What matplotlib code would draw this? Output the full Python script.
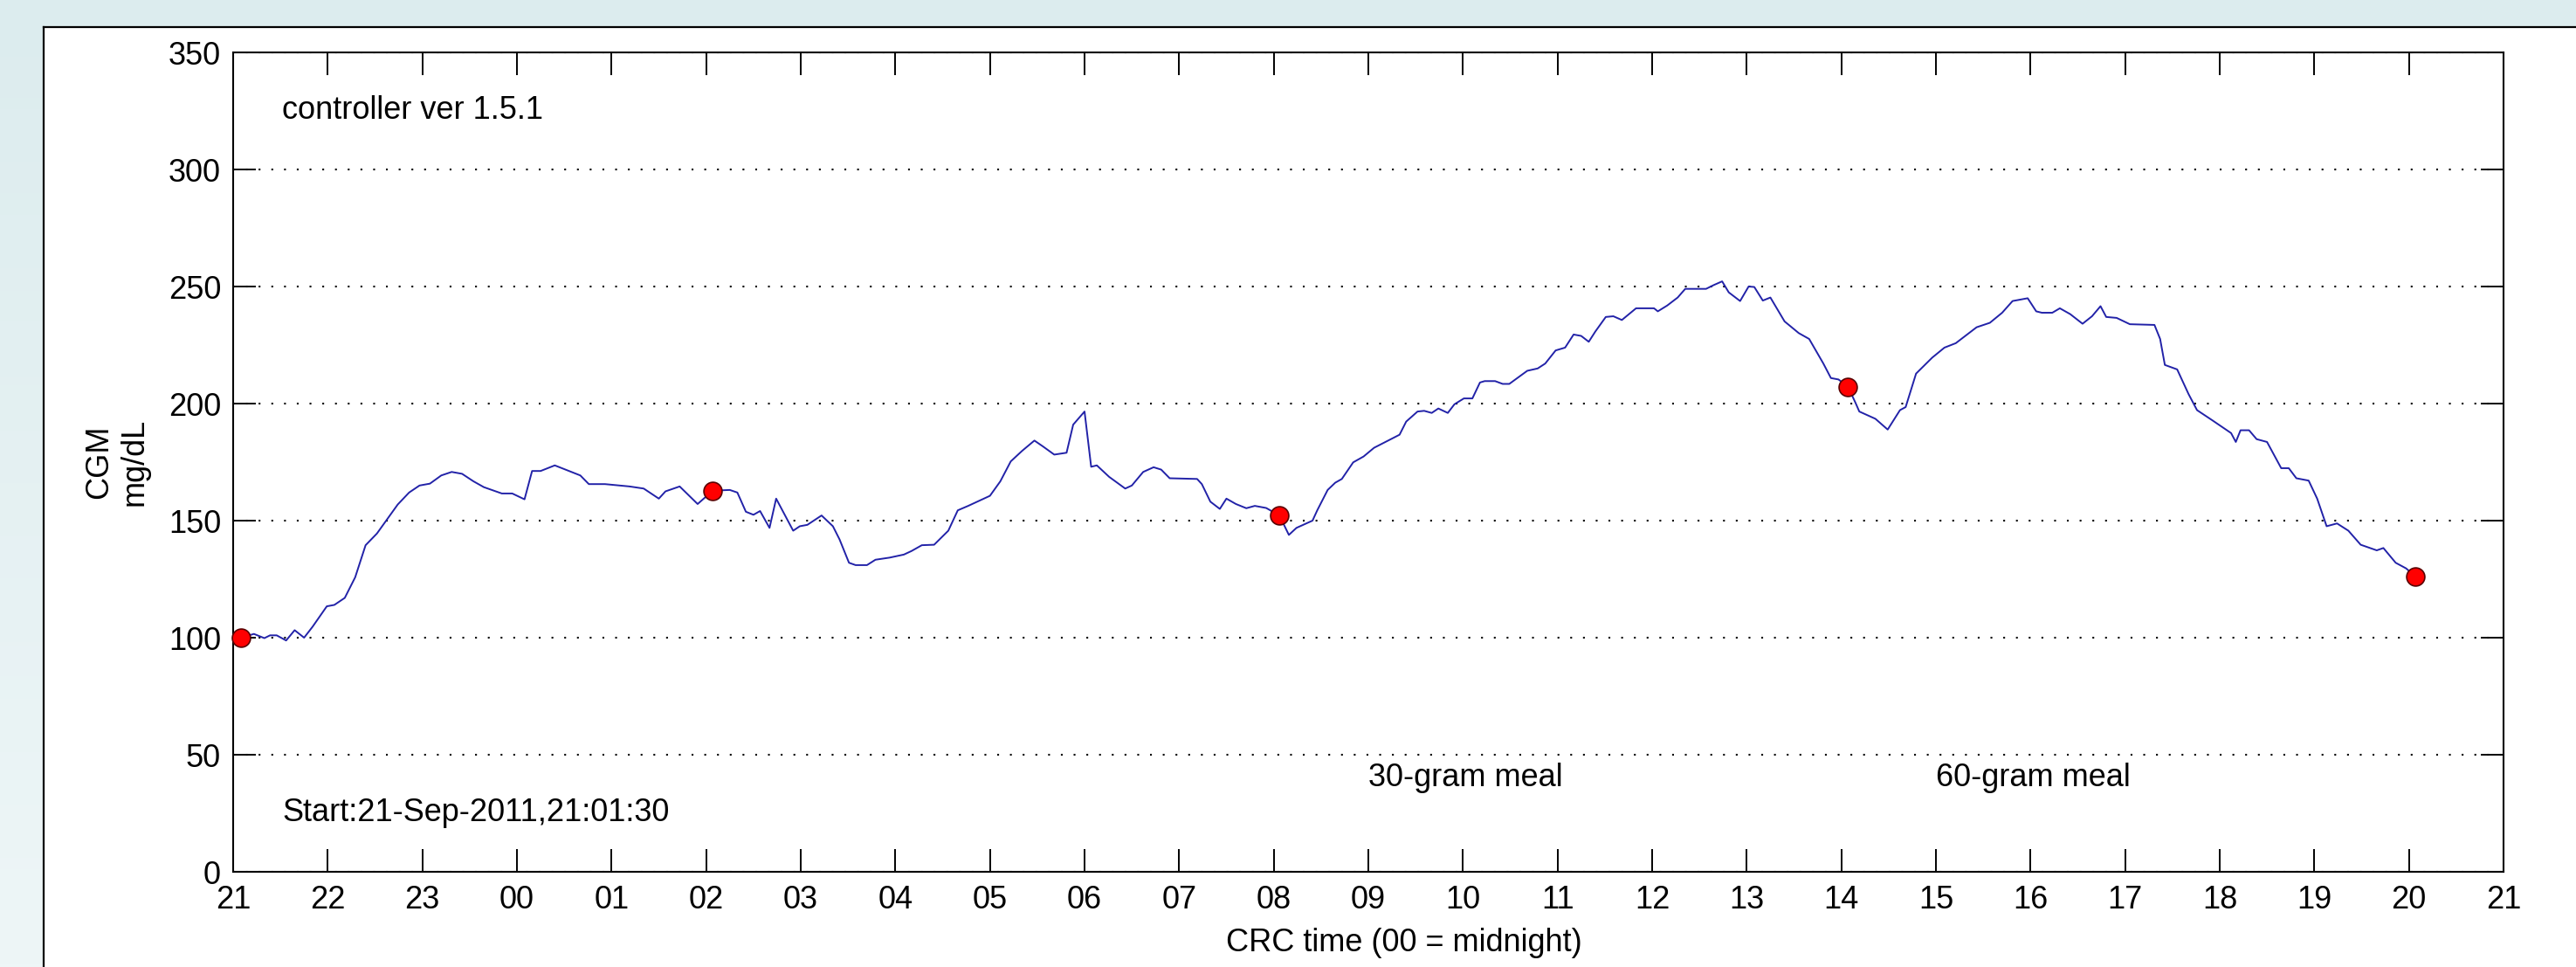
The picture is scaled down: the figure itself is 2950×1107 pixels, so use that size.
import numpy as np
import matplotlib
matplotlib.use("Agg")
import matplotlib.pyplot as plt
from matplotlib.patches import Rectangle
from matplotlib.lines import Line2D

plt.rcParams.update({
    "font.family": ["Liberation Sans", "DejaVu Sans"],
    "font.size": 26,
})

# CGM trace, hours since 21:00 (start 21-Sep-2011)
hours = [0.08, 0.22, 0.33, 0.39, 0.46, 0.56, 0.65, 0.75, 0.84, 0.99, 1.07, 1.18, 1.29,
         1.40, 1.52, 1.63, 1.74, 1.86, 1.97, 2.08, 2.20, 2.31, 2.42, 2.54, 2.65, 2.84,
         2.95, 3.08, 3.16, 3.25, 3.40, 3.55, 3.67, 3.76, 3.93, 4.19, 4.34, 4.50, 4.57,
         4.72, 4.91, 5.07, 5.25, 5.33, 5.42, 5.50, 5.57, 5.67, 5.74, 5.92, 5.99, 6.07,
         6.22, 6.34, 6.41, 6.51, 6.58, 6.70, 6.79, 6.94, 7.09, 7.17, 7.28, 7.41, 7.56,
         7.66, 7.77, 8.00, 8.11, 8.22, 8.34, 8.47, 8.56, 8.68, 8.81, 8.88, 9.00, 9.07,
         9.13, 9.26, 9.43, 9.50, 9.62, 9.73, 9.81, 9.90, 10.19, 10.24, 10.33, 10.43,
         10.50, 10.60, 10.71, 10.80, 10.92, 11.06, 11.16, 11.24, 11.41, 11.46, 11.57,
         11.65, 11.72, 11.84, 11.95, 12.06, 12.18, 12.33, 12.40, 12.52, 12.59, 12.67,
         12.74, 12.84, 12.91, 13.01, 13.10, 13.18, 13.23, 13.34, 13.42, 13.49, 13.68,
         13.79, 13.87, 13.98, 14.08, 14.17, 14.25, 14.33, 14.40, 14.51, 14.59, 14.68,
         14.83, 15.02, 15.06, 15.16, 15.27, 15.35, 15.57, 15.65, 15.74, 15.81, 15.93,
         16.02, 16.08, 16.17, 16.25, 16.40, 16.55, 16.66, 16.81, 16.89, 16.97, 17.07,
         17.15, 17.19, 17.36, 17.49, 17.62, 17.68, 17.79, 17.96, 18.09, 18.21, 18.43,
         18.57, 18.70, 18.81, 18.97, 19.06, 19.12, 19.23, 19.31, 19.42, 19.55, 19.65,
         19.74, 19.80, 19.91, 20.05, 20.31, 20.37, 20.42, 20.55, 20.67, 20.76, 20.92,
         21.12, 21.17, 21.22, 21.31, 21.39, 21.50, 21.65, 21.73, 21.81, 21.94, 22.03,
         22.13, 22.24, 22.36, 22.49, 22.66, 22.73, 22.86, 22.97, 23.07]
cgm = [100, 101.6, 99.8, 101, 101, 98.8, 103.2, 100, 104.7, 113.4, 114, 117, 125.8,
       139.5, 144.5, 150.7, 156.9, 162, 165, 165.8, 169.3, 170.8, 170, 166.8, 164.3, 161.6,
       161.6, 159.1, 171.2, 171.2, 173.6, 171.2, 169.3, 165.6, 165.6, 164.6, 163.7, 159.4, 162.5,
       164.6, 157.1, 162.8, 163.1, 162, 153.8, 152.5, 154.1, 146.9, 159.4, 145.7, 147.6, 148.2,
       152.2, 147.6, 142, 132, 131, 131, 133.3, 134.2, 135.5, 137, 139.5, 139.7, 145.7,
       154.4, 156.3, 160.6, 166.8, 175.3, 179.8, 184.2, 181.7, 178.2, 179, 191, 196.6, 173,
       173.6, 168.7, 163.7, 165, 170.8, 172.8, 171.8, 168.1, 167.8, 165.6, 158.1, 155,
       159.4, 157.1, 155.3, 156.3, 155.4, 152.2, 143.9, 146.9, 150, 154.4, 163.1,
       166.2, 167.8, 174.9, 177.4, 181.1, 183.6, 186.7, 192.3, 196.6, 196.9, 196,
       197.9, 196, 199.7, 202.2, 202.2, 209, 209.6, 209.6, 208.4, 208.4, 214,
       215, 217.1, 222.7, 223.9, 229.5, 228.9, 226.4, 230.8, 237, 237.3, 235.7,
       240.7, 240.7, 239.4, 241.9, 245.3, 249, 249, 250.6, 252.2, 247.5, 243.8,
       250, 249.8, 244, 245.3, 235.1, 230.1, 227.6, 217.1, 210.9, 210.3, 207.2,
       200.3, 196.6, 193.5, 188.9, 197.2, 198.5, 212.8, 219.6, 223.9, 225.8, 232.6,
       234.5, 238.8, 243.8, 245, 239.4, 238.8, 238.8, 240.7, 238.2, 234.1, 237.3,
       241.6, 237, 236.6, 233.9, 233.6, 227.6, 216.5, 214.6, 204.1, 197.2, 192.9,
       187.4, 183.6, 188.6, 188.6, 184.8, 183.6, 172.4, 172.4, 168.1, 167.1, 159.4,
       147.6, 148.8, 145.7, 139.7, 137.3, 138.3, 132, 129.6, 126.1]

# red markers every ~6 h
dot_hours = [0.08, 5.07, 11.06, 17.07, 23.07]
dot_cgm = [100, 162.8, 152.2, 207.2, 126.1]

tick_hours = list(range(0, 25))
tick_labels = ["21", "22", "23", "00", "01", "02", "03", "04", "05", "06", "07", "08", "09",
               "10", "11", "12", "13", "14", "15", "16", "17", "18", "19", "20", "21"]
y_ticks = [0, 50, 100, 150, 200, 250, 300, 350]

W, H = 2950, 1107
fig = plt.figure(figsize=(W / 100, H / 100), dpi=100)

# light blue gradient background
bg = fig.add_axes([0, 0, 1, 1], zorder=-10)
grad = np.linspace(0, 1, 256).reshape(-1, 1)
top_c = np.array([0xdc, 0xec, 0xee]) / 255
bot_c = np.array([0xee, 0xf6, 0xf7]) / 255
img = top_c[None, None, :] * (1 - grad[:, :, None]) + bot_c[None, None, :] * grad[:, :, None]
bg.imshow(img, aspect="auto", extent=[0, 1, 0, 1])
bg.set_axis_off()

# white panel
px0, py1 = 50 / W, 1 - 31 / H
fig.patches.append(Rectangle((px0, 0), 1.0, py1, transform=fig.transFigure,
                             facecolor="white", edgecolor="none", zorder=-5))
fig.lines.append(Line2D([px0, px0], [0, py1], transform=fig.transFigure, color="black", lw=1.6))
fig.lines.append(Line2D([px0, 1], [py1, py1], transform=fig.transFigure, color="black", lw=1.6))

ax = fig.add_axes([267 / W, 1 - 998 / H, (2867 - 267) / W, (998 - 60) / H])
ax.set_facecolor("white")

ax.plot(hours, cgm, color="#2222a8", lw=1.4, zorder=3)
ax.plot(dot_hours, dot_cgm, "o", ms=15, mfc="#ff0000", mec="#5a0000", mew=1.2,
        zorder=4, clip_on=False)

ax.set_xlim(0, 24)
ax.set_ylim(0, 350)
ax.set_xticks(tick_hours)
ax.set_xticklabels(tick_labels)
ax.set_yticks(y_ticks)

ax.yaxis.grid(True, linestyle=(0, (1, 6)), color="black", lw=1.5)
ax.set_axisbelow(True)

ax.tick_params(axis="both", direction="in", length=19, width=1.4, color="black",
               top=True, right=True, labelsize=26)
ax.tick_params(axis="x", pad=11)
ax.tick_params(axis="y", pad=10)
for s in ax.spines.values():
    s.set_linewidth(1.5)

ax.set_xlabel("CRC time (00 = midnight)", fontsize=26, va="center")
ax.xaxis.set_label_coords(0.5158, -0.0874)
ax.set_ylabel("CGM\nmg/dL", fontsize=26, va="center", ma="center", linespacing=1.2)
ax.yaxis.set_label_coords(-0.0512, 0.5)

ax.text(0.52, 325, "controller ver 1.5.1", fontsize=26, va="center", ha="left")
ax.text(0.52, 25, "Start:21-Sep-2011,21:01:30", fontsize=26, va="center", ha="left")
ax.text(12, 40, "30-gram meal", fontsize=26, va="center", ha="left")
ax.text(18, 40, "60-gram meal", fontsize=26, va="center", ha="left")

fig.savefig("out.png", dpi=100)
plt.close(fig)
